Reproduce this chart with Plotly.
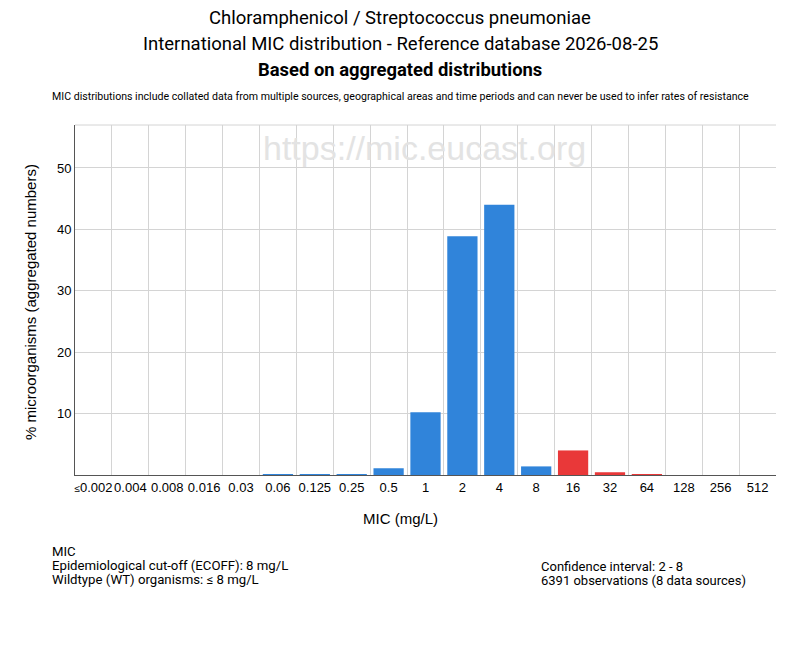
import plotly.graph_objects as go

# ── Data ─────────────────────────────────────────────────────────────────────
MIC_LABELS = ["≤0.002", "0.004", "0.008", "0.016", "0.03", "0.06", "0.125",
              "0.25", "0.5", "1", "2", "4", "8", "16", "32", "64", "128",
              "256", "512"]
PCT_ORGANISMS = [0, 0, 0, 0, 0, 0.16, 0.16, 0.16, 1.1, 10.2, 38.9, 44.0,
                 1.4, 4.0, 0.45, 0.16, 0, 0, 0]
ECOFF_INDEX = 12  # "8" mg/L, bars above this are non-wildtype

Y_TICKS = [10, 20, 30, 40, 50]

TITLE_LINES = [
    "Chloramphenicol / Streptococcus pneumoniae",
    "International MIC distribution - Reference database 2026-08-25",
]
SUBTITLE = "Based on aggregated distributions"
DISCLAIMER = ("MIC distributions include collated data from multiple sources, "
              "geographical areas and time periods and can never be used to "
              "infer rates of resistance")
NOTES_LEFT = ["MIC", "Epidemiological cut-off (ECOFF): 8 mg/L",
              "Wildtype (WT) organisms: ≤ 8 mg/L"]
NOTES_RIGHT = ["Confidence interval: 2 - 8",
               "6391 observations (8 data sources)"]

# ── Style ────────────────────────────────────────────────────────────────────
BLUE = "#3084DA"
RED = "#E93839"
GRID = "#D4D4D4"
TITLE_FONT = "Roboto, Liberation Sans, sans-serif"
BODY_FONT = "Liberation Sans, Arial, sans-serif"

bar_colors = [BLUE if i <= ECOFF_INDEX else RED for i in range(len(MIC_LABELS))]

# shrink the "≤" glyph so the first label doesn't run into its neighbour
tick_text = [lbl.replace("≤", "<span style='font-size:10px'>≤</span>")
             for lbl in MIC_LABELS]

fig = go.Figure()
fig.add_trace(go.Bar(
    x=MIC_LABELS,
    y=PCT_ORGANISMS,
    marker=dict(color=bar_colors, line=dict(width=0)),
    hoverinfo="x+y",
))

# plot area spans pixels x 75..776, y 125..475
def px_x(px):
    return (px - 75) / 701.0


def px_y(py):
    return (475 - py) / 350.0


annotations = []
annotations.append(dict(text=TITLE_LINES[0], x=px_x(400), y=px_y(18),
                        font=dict(size=18.5, family=TITLE_FONT, color="#000")))
annotations.append(dict(text=TITLE_LINES[1], x=px_x(400), y=px_y(44),
                        font=dict(size=18.5, family=TITLE_FONT, color="#000")))
annotations.append(dict(text="<b>" + SUBTITLE + "</b>", x=px_x(400), y=px_y(69),
                        font=dict(size=18.4, family=TITLE_FONT, color="#000")))
annotations.append(dict(text=DISCLAIMER, x=px_x(400), y=px_y(97),
                        font=dict(size=10.6, family=TITLE_FONT, color="#000")))
annotations.append(dict(text="https://mic.eucast.org", x=px_x(424), y=px_y(148),
                        font=dict(size=34, family=BODY_FONT, color="#E3E3E3")))
annotations.append(dict(text="MIC (mg/L)", x=px_x(400), y=px_y(518),
                        font=dict(size=15, family=BODY_FONT, color="#000")))
annotations.append(dict(text="% microorganisms (aggregated numbers)",
                        x=px_x(30), y=px_y(302), textangle=-90,
                        font=dict(size=15, family=BODY_FONT, color="#000")))

for i, line in enumerate(NOTES_LEFT):
    annotations.append(dict(text=line, x=px_x(50), y=px_y(551 + 14 * i),
                            xanchor="left",
                            font=dict(size=13.2, family=TITLE_FONT, color="#000")))
for i, line in enumerate(NOTES_RIGHT):
    annotations.append(dict(text=line, x=px_x(539), y=px_y(566 + 14 * i),
                            xanchor="left",
                            font=dict(size=13, family=TITLE_FONT, color="#000")))

for a in annotations:
    a.setdefault("xanchor", "center")
    a.update(xref="paper", yref="paper", yanchor="middle", showarrow=False)

fig.update_layout(
    width=800,
    height=650,
    margin=dict(l=75, r=24, t=125, b=175),
    plot_bgcolor="white",
    paper_bgcolor="white",
    bargap=0.18,
    showlegend=False,
    annotations=annotations,
    font=dict(family=BODY_FONT, size=13, color="#000"),
    shapes=[dict(type="line", xref="paper", yref="paper", x0=0, x1=1, y0=1, y1=1,
                 line=dict(color=GRID, width=1))],
)
fig.update_xaxes(
    type="category",
    tickson="boundaries",
    tickmode="array",
    tickvals=MIC_LABELS,
    ticktext=tick_text,
    tickangle=0,
    showgrid=True,
    gridcolor=GRID,
    gridwidth=1,
    showline=True,
    linecolor="#555",
    linewidth=1,
    ticks="",
    tickfont=dict(size=13, family=BODY_FONT),
)
fig.update_yaxes(
    range=[0, 57],
    tickvals=Y_TICKS,
    showgrid=True,
    gridcolor=GRID,
    gridwidth=1,
    showline=True,
    linecolor="#555",
    linewidth=1,
    zeroline=False,
    ticks="",
    tickfont=dict(size=13, family=BODY_FONT),
)

fig.write_html("out.html", config={"displayModeBar": False},
               post_script="document.body.style.margin = '0px';")
